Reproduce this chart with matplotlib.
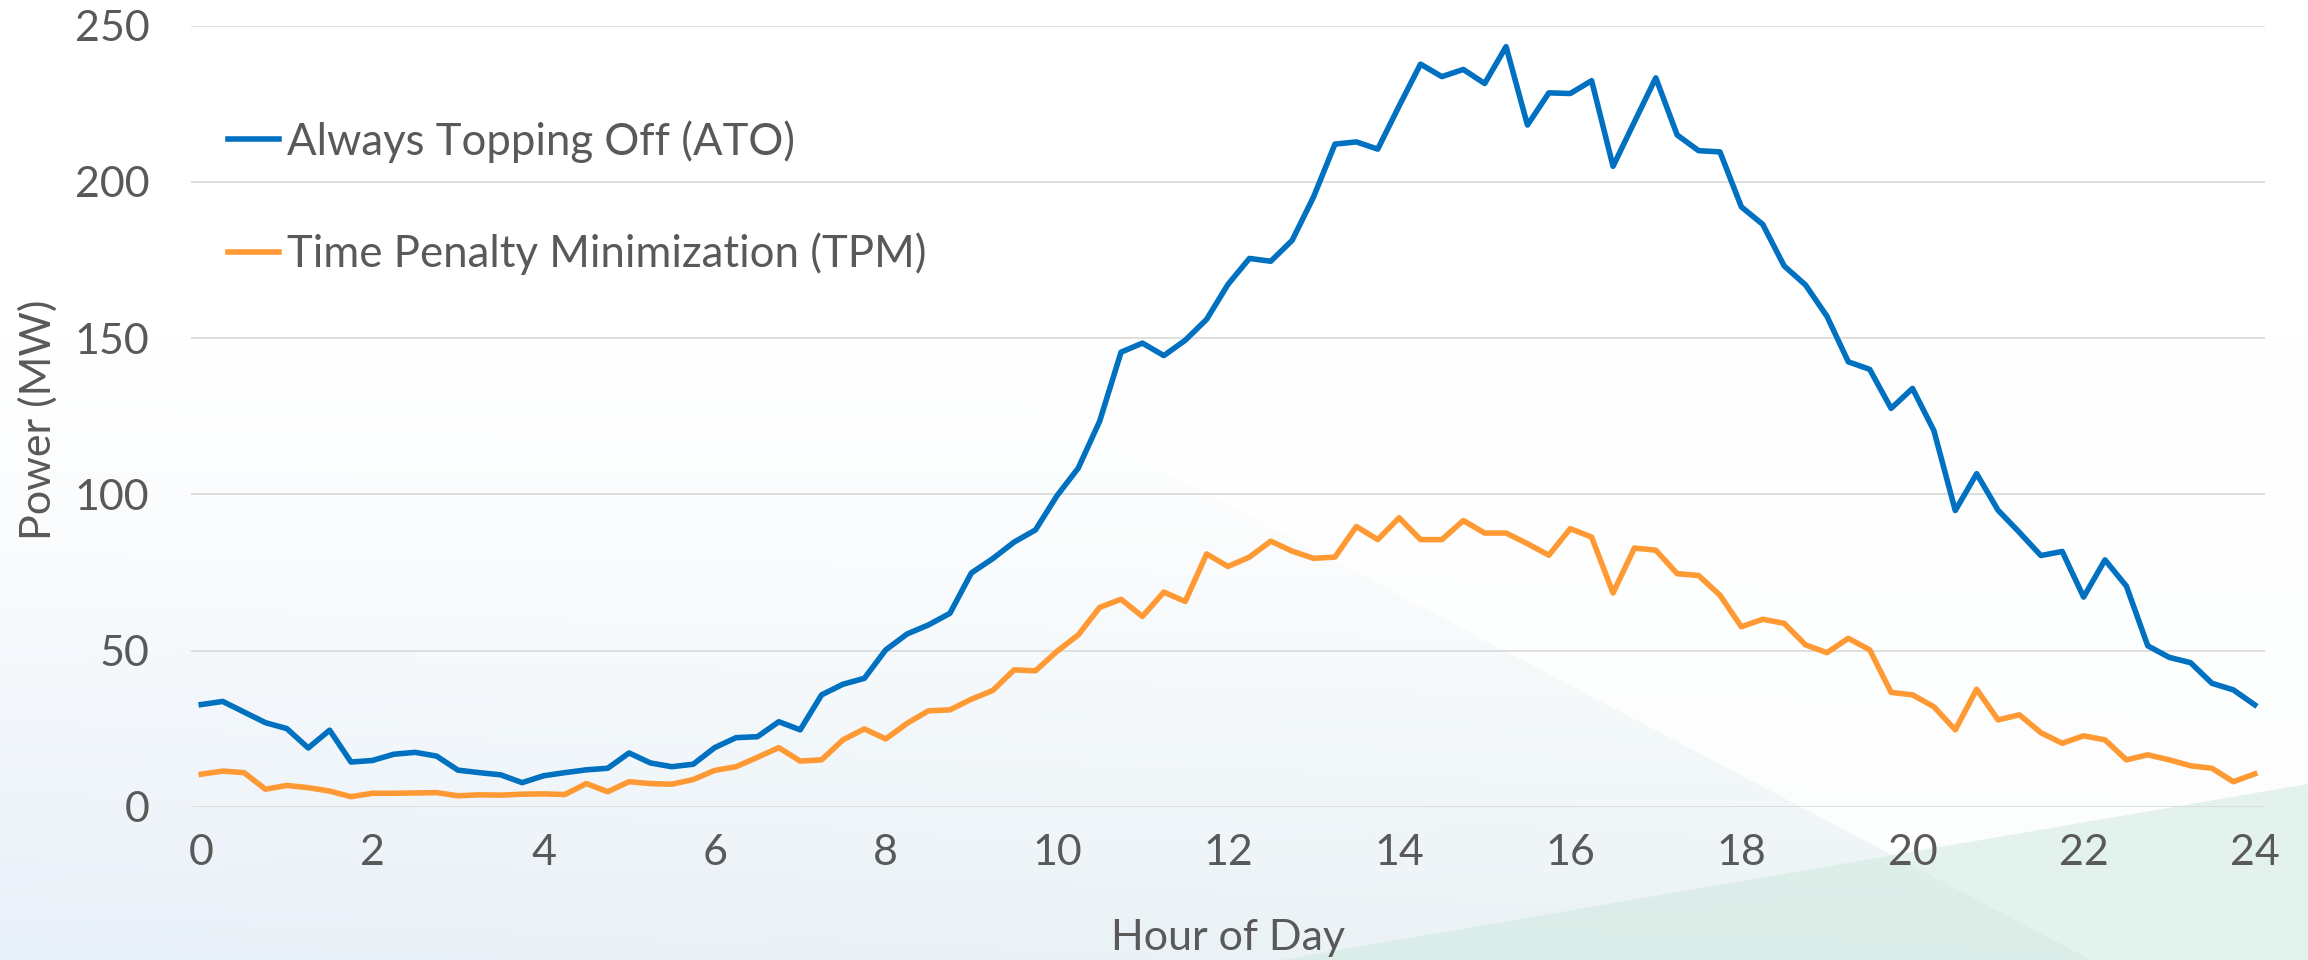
import numpy as np
import matplotlib
matplotlib.use("Agg")
import matplotlib.pyplot as plt
from matplotlib.patches import Polygon

# hour of day, every 15 min
hours = np.arange(0, 24.01, 0.25)

ato = [32.7, 33.7, 30.3, 26.9, 25.0, 18.8, 24.5, 14.3, 14.8, 16.8, 17.4, 16.2,
       11.7, 10.9, 10.2, 7.7, 9.9, 10.9, 11.8, 12.3, 17.2, 14.0, 12.8, 13.6,
       18.9, 22.1, 22.4, 27.2, 24.6, 35.8, 39.2, 41.1, 50.2, 55.3, 58.2, 61.9,
       74.8, 79.4, 84.7, 88.6, 99.5, 108.4, 123.4, 145.5, 148.4, 144.4, 149.3, 156.0,
       167.2, 175.5, 174.6, 181.3, 195.2, 212.1, 212.8, 210.5, 224.3, 237.7, 233.7, 236.0,
       231.5, 243.3, 218.2, 228.5, 228.3, 232.4, 205.0, 219.2, 233.3, 215.0, 210.0, 209.6,
       192.0, 186.4, 173.1, 167.0, 157.0, 142.4, 140.0, 127.5, 133.9, 120.4, 94.8, 106.6,
       94.9, 87.8, 80.4, 81.7, 67.1, 79.0, 70.6, 51.5, 47.8, 46.1, 39.5, 37.4,
       32.6]

tpm = [10.4, 11.4, 10.9, 5.6, 6.8, 6.1, 5.0, 3.2, 4.3, 4.3, 4.4, 4.5,
       3.5, 3.8, 3.7, 4.0, 4.1, 3.9, 7.4, 4.8, 8.0, 7.4, 7.2, 8.7,
       11.6, 12.8, 15.8, 18.9, 14.6, 15.0, 21.4, 24.9, 21.7, 26.7, 30.7, 31.0,
       34.4, 37.2, 43.8, 43.5, 49.7, 55.0, 63.8, 66.4, 60.9, 68.7, 65.7, 80.9,
       76.9, 79.9, 85.0, 81.8, 79.5, 79.9, 89.7, 85.5, 92.5, 85.5, 85.5, 91.6,
       87.6, 87.6, 84.2, 80.5, 89.0, 86.3, 68.4, 82.8, 82.1, 74.6, 74.0, 67.7,
       57.6, 60.0, 58.7, 51.8, 49.3, 53.9, 50.2, 36.6, 35.8, 32.0, 24.6, 37.6,
       27.8, 29.4, 23.7, 20.3, 22.7, 21.4, 15.0, 16.6, 15.0, 13.1, 12.3, 8.0,
       10.5]

labels = ["Always Topping Off (ATO)", "Time Penalty Minimization (TPM)"]
colors = ["#0070C0", "#FF9933"]
xticks = list(range(0, 25, 2))
yticks = list(range(0, 251, 50))

plt.rcParams["font.family"] = ["Lato", "DejaVu Sans"]
txt = "#595959"

W, H = 2308, 960
fig = plt.figure(figsize=(W / 100, H / 100), dpi=100)

# soft slide background
bg = fig.add_axes([0, 0, 1, 1], zorder=0)
bg.set_xlim(0, W)
bg.set_ylim(H, 0)
bg.axis("off")
yy = np.linspace(0, 1, 200)[:, None]
xx = np.linspace(0, 1, 300)[None, :]
t = np.clip((yy - 0.35) / 0.65, 0, 1) ** 1.3
top = np.array([1.0, 1.0, 1.0])
bot_l = np.array([232, 240, 248]) / 255
bot_r = np.array([236, 244, 244]) / 255
bot = bot_l[None, None, :] * (1 - xx[..., None]) + bot_r[None, None, :] * xx[..., None]
img = top[None, None, :] * (1 - t[..., None]) + bot * t[..., None]
bg.imshow(img, extent=[0, W, H, 0], aspect="auto")
bg.add_patch(Polygon([(840, 300), (2091, 960), (W, 960), (W, 300)],
                     closed=True, fc="white", ec="none", alpha=0.85))
bg.add_patch(Polygon([(1281, 960), (W, 784), (W, 960)],
                     closed=True, fc="#cfe9df", ec="none", alpha=0.55))

ax = fig.add_axes([191 / W, (H - 806.7) / H, (2265 - 191) / W, (806.7 - 25.7) / H], zorder=1)
ax.patch.set_alpha(0)

for y, lab, c in zip([ato, tpm], labels, colors):
    ax.plot(hours, y, color=c, lw=4.0, label=lab, solid_joinstyle="round")

ax.set_xlim(-0.12, 24.12)
ax.set_ylim(0, 250)
ax.set_xticks(xticks)
ax.set_yticks(yticks)
ax.grid(axis="y", color="#D9D9D9", lw=1.2)
ax.set_axisbelow(True)
for s in ax.spines.values():
    s.set_visible(False)
ax.tick_params(axis="both", length=0, labelsize=31, colors=txt)
ax.tick_params(axis="x", pad=20)
ax.tick_params(axis="y", pad=30)

ax.set_xlabel("Hour of Day", fontsize=31, color=txt, va="center")
ax.xaxis.set_label_coords(0.5, -0.168)
ax.set_ylabel("Power (MW)", fontsize=31, color=txt, va="center")
ax.yaxis.set_label_coords(-0.0738, 0.496)

ax.legend(loc="upper left", bbox_to_anchor=(228 / W, 1 - 120 / H),
          bbox_transform=fig.transFigure, frameon=False, fontsize=31.5,
          labelcolor=txt, borderpad=0, borderaxespad=0, handlelength=1.17,
          handletextpad=0.17, labelspacing=1.6)

fig.savefig("out.png", dpi=100)
